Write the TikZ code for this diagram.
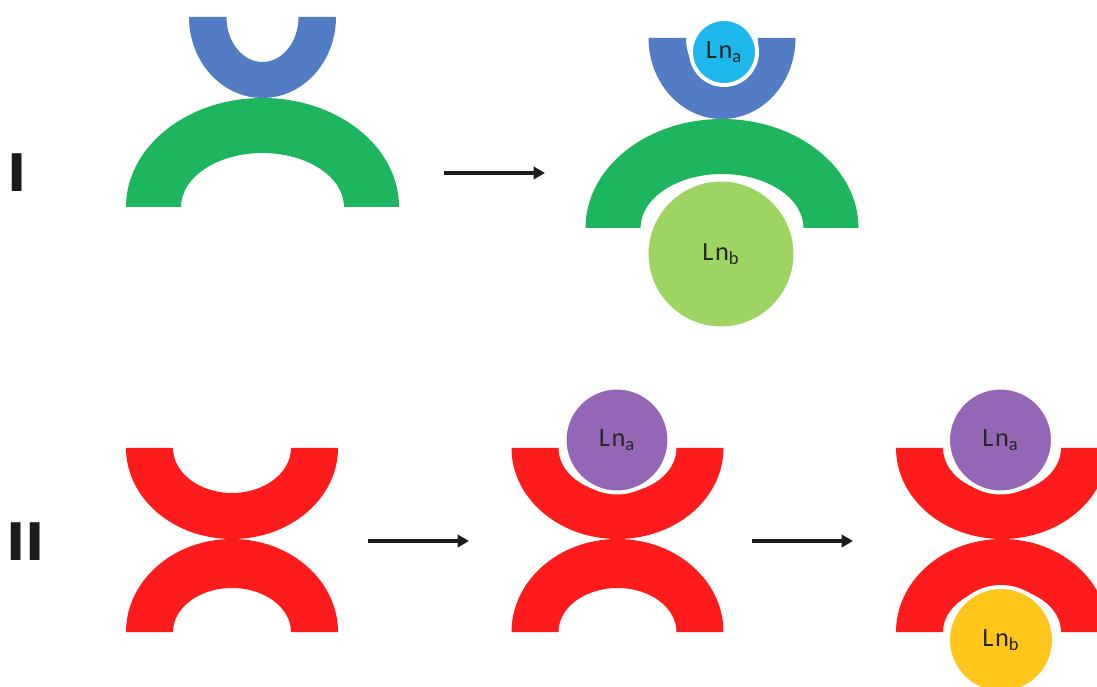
\documentclass[tikz,border=0pt]{standalone}
\usepackage{fontspec}
\setsansfont{Carlito}
\newfontfamily\rowfont{DejaVu Sans}
\usepackage{xcolor}
\definecolor{hostblue}{HTML}{527DC5}
\definecolor{hostgreen}{HTML}{1DB65E}
\definecolor{hostred}{HTML}{FE1B1B}
\definecolor{lnsky}{HTML}{1DB7EC}
\definecolor{lnlime}{HTML}{9DD462}
\definecolor{lnviolet}{HTML}{9467B6}
\definecolor{lnamber}{HTML}{FEC51B}
\definecolor{lntext}{HTML}{262626}
\definecolor{inkdark}{HTML}{1C1C1C}
\usetikzlibrary{arrows.meta}

\newcommand{\lnion}[1]{L\kern0.06em n\textsubscript{#1}}

\tikzset{
  % half rings: outer x/y radius, inner x/y radius
  pics/cup/.style args={#1/#2/#3/#4}{code={
    \path[pic actions] (-#1,0) arc[start angle=180,end angle=360,x radius=#1,y radius=#2]
      -- (#3,0) arc[start angle=360,end angle=180,x radius=#3,y radius=#4] -- cycle;}},
  pics/dome/.style args={#1/#2/#3/#4}{code={
    \path[pic actions] (-#1,0) arc[start angle=180,end angle=0,x radius=#1,y radius=#2]
      -- (#3,0) arc[start angle=0,end angle=180,x radius=#3,y radius=#4] -- cycle;}},
  ion/.style={circle,inner sep=0pt,draw=white,line width=0.08cm,
    minimum size=#1*0.02cm,text=lntext,font=\sffamily\fontsize{15}{17}\selectfont},
  rowlabel/.style={text=inkdark,font=\rowfont\bfseries\fontsize{29.5}{30}\selectfont},
  stepline/.style={draw=inkdark,line width=1.9pt,-{Triangle[length=6.5pt,width=7pt]}}
}

\begin{document}
\begin{tikzpicture}[x=0.02cm,y=0.02cm]
\useasboundingbox (0,0) rectangle (1097,686);
\clip (0,0) rectangle (1097,686);

% row I
\node[rowlabel] (row-i) at (17.5,513) {I};
\pic[fill=hostblue] at (262.5,669) {cup=73.5/81/36/45};
\pic[fill=hostgreen] at (262.5,479) {dome=136.5/109/81.5/54};

\coordinate (i-from) at (444,513);
\coordinate (i-to) at (545,513);
\draw[stepline] (i-from) -- (i-to);

\pic[fill=hostblue] at (722,648) {cup=73.5/81/36/45};
\pic[fill=hostgreen] at (722,458) {dome=136.5/109/81.5/54};
\node[ion=66,fill=lnsky] (lna-i) at (724,634) {\lnion{a}};
\node[ion=149,fill=lnlime] (lnb-i) at (721,432) {\lnion{b}};

% row II
\node[rowlabel] (row-ii) at (26,144) {II};
\foreach \cx in {232,617.5,1002}{
  \pic[fill=hostred] at (\cx,238) {cup=106/91/59/45};
  \pic[fill=hostred] at (\cx,54) {dome=106/93/59/44};
}

\coordinate (ii-from) at (368,145);
\coordinate (ii-to) at (469,145);
\coordinate (iii-from) at (752,145);
\coordinate (iii-to) at (853,145);
\draw[stepline] (ii-from) -- (ii-to);
\draw[stepline] (iii-from) -- (iii-to);

\node[ion=105,fill=lnviolet] (lna-ii) at (617,246) {\lnion{a}};
\node[ion=105,fill=lnviolet] (lna-iii) at (1000.5,246) {\lnion{a}};
\node[ion=106,fill=lnamber] (lnb-iii) at (1001,46) {\lnion{b}};
\end{tikzpicture}
\end{document}
